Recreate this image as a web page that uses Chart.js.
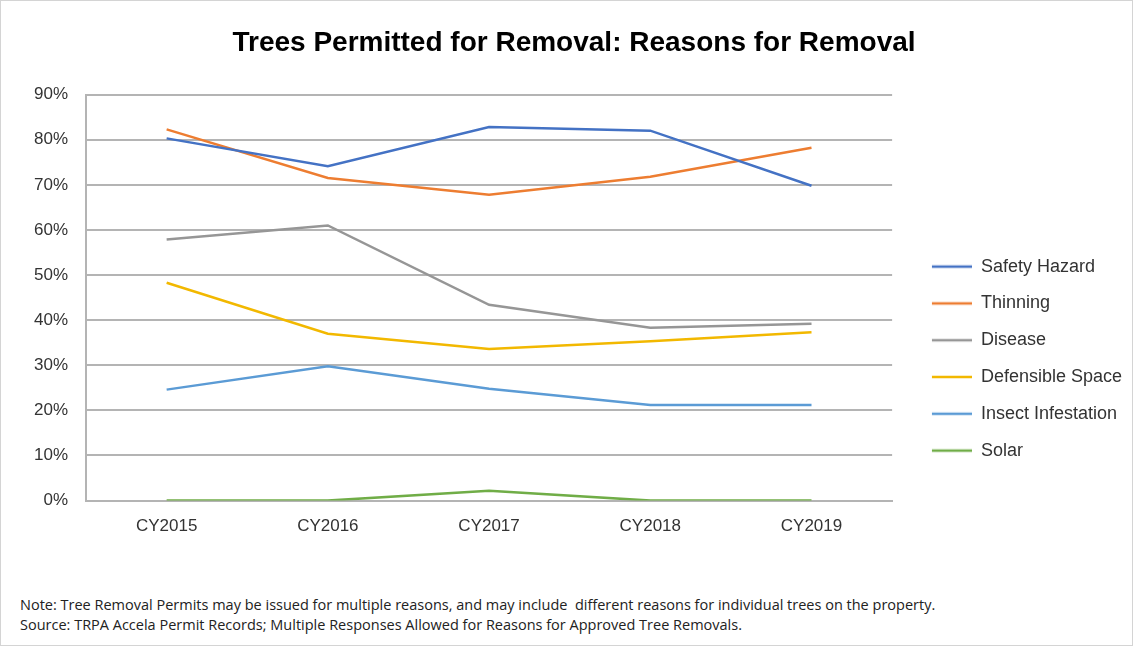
<!DOCTYPE html>
<html>
<head>
<meta charset="utf-8">
<script src="https://cdn.jsdelivr.net/npm/chart.js@4"></script>
<style>
  body { margin: 0; background: #fff; }
  #frame { position: relative; width: 1131px; height: 644px; border: 1px solid #d4d4d4; overflow: hidden; }
  #box { position: absolute; left: 0; top: 0; width: 1131px; height: 552px; }
  .note { position: absolute; left: 19px; font: 14.5px "Liberation Sans Narrow", "Open Sans", sans-serif; color: #222; white-space: nowrap; }
</style>
</head>
<body>
<div id="frame">
  <div id="box"><canvas id="chart"></canvas></div>
  <div class="note" style="top:594px">Note: Tree Removal Permits may be issued for multiple reasons, and may include&nbsp; different reasons for individual trees on the property.</div>
  <div class="note" style="top:614px">Source: TRPA Accela Permit Records; Multiple Responses Allowed for Reasons for Approved Tree Removals.</div>
</div>
<script>
const years = ['CY2015', 'CY2016', 'CY2017', 'CY2018', 'CY2019'];
const yTicks = [0, 10, 20, 30, 40, 50, 60, 70, 80, 90];

const safetyHazard = [80.3, 74.1, 82.8, 82.0, 69.8];
const thinning = [82.3, 71.5, 67.8, 71.8, 78.2];
const disease = [57.9, 61.0, 43.4, 38.3, 39.2];
const defensibleSpace = [48.3, 37.0, 33.6, 35.3, 37.3];
const insectInfestation = [24.6, 29.8, 24.8, 21.2, 21.2];
const solar = [0, 0, 2.2, 0, 0];

// legend symbol: short line with some empty space in front of it
function legendSymbol(color) {
  const c = document.createElement('canvas');
  c.width = 61;
  c.height = 6;
  const g = c.getContext('2d');
  g.strokeStyle = color;
  g.lineWidth = 2.5;
  g.beginPath();
  g.moveTo(21, 3);
  g.lineTo(61, 3);
  g.stroke();
  return c;
}

function makeLine(label, data, color) {
  return {
    label: label,
    data: data,
    borderColor: color,
    backgroundColor: color,
    borderWidth: 2.5,
    pointRadius: 0,
    pointStyle: legendSymbol(color),
    tension: 0,
    fill: false
  };
}

const datasets = [
  makeLine('Safety Hazard', safetyHazard, '#4472C4'),
  makeLine('Thinning', thinning, '#ED7D31'),
  makeLine('Disease', disease, '#969696'),
  makeLine('Defensible Space', defensibleSpace, '#F2B800'),
  makeLine('Insect Infestation', insectInfestation, '#5B9BD5'),
  makeLine('Solar', solar, '#70AD47')
];

const ctx = document.getElementById('chart').getContext('2d');
new Chart(ctx, {
  type: 'line',
  data: { labels: years, datasets: datasets },
  options: {
    responsive: true,
    maintainAspectRatio: false,
    animation: false,
    layout: { padding: { top: 25, left: 15, right: 0, bottom: 0 } },
    plugins: {
      title: {
        display: true,
        text: 'Trees Permitted for Removal: Reasons for Removal',
        color: '#000',
        font: { family: 'Liberation Sans', size: 28, weight: 'bold' },
        padding: { top: 0, bottom: 35 }
      },
      legend: {
        position: 'right',
        align: 'center',
        title: { display: true, text: ' ', padding: { top: 0, bottom: 137 }, font: { size: 1 } },
        labels: {
          usePointStyle: true,
          pointStyleWidth: 61,
          boxHeight: 18,
          padding: 18.8,
          color: '#333',
          font: { family: 'Liberation Sans', size: 18 }
        }
      },
      tooltip: { enabled: false }
    },
    scales: {
      x: {
        offset: true,
        grid: { display: false, drawTicks: false },
        border: { color: '#b4b4b4', width: 2 },
        ticks: { color: '#333', padding: 16, font: { family: 'Liberation Sans', size: 17 } }
      },
      y: {
        min: 0,
        max: 90,
        afterBuildTicks: (axis) => { axis.ticks = yTicks.map(v => ({ value: v })); },
        grid: { color: '#b4b4b4', lineWidth: 2, drawTicks: false },
        border: { color: '#b4b4b4', width: 2 },
        ticks: {
          color: '#333',
          padding: 18,
          font: { family: 'Liberation Sans', size: 17 },
          callback: (v) => v + '%'
        }
      }
    }
  }
});
</script>
</body>
</html>
